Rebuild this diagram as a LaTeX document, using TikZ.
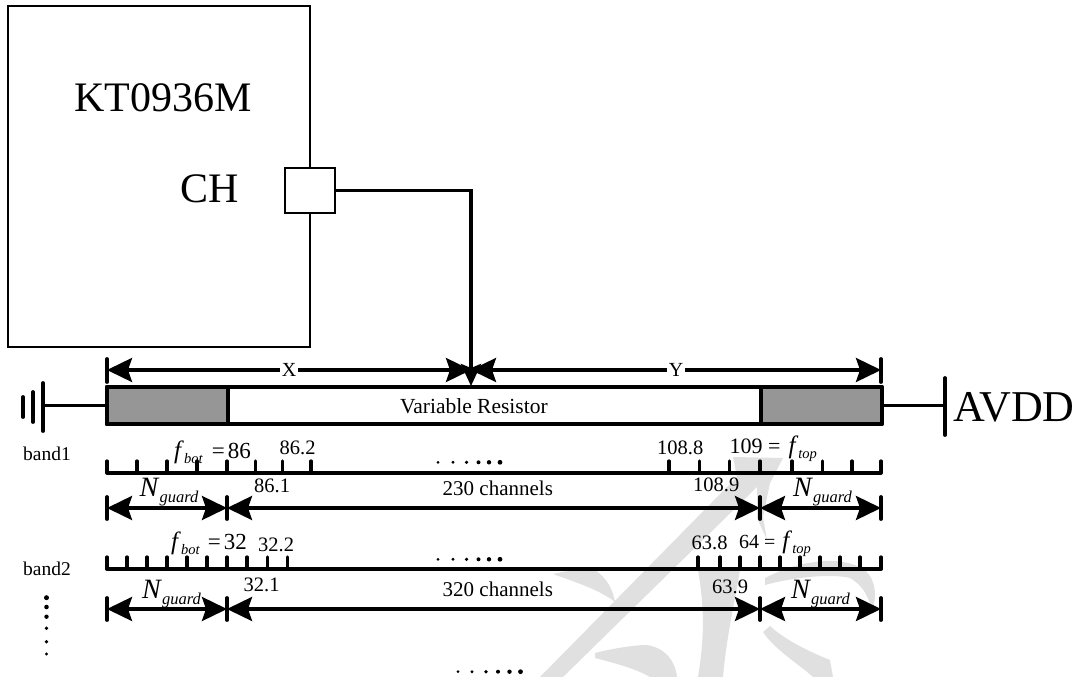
\documentclass[tikz,border=0pt]{standalone}
\usepackage{fontspec}
\setmainfont{Liberation Serif}
\usetikzlibrary{arrows.meta}

\newcommand{\fsz}[1]{\fontsize{#1}{#1}\selectfont}
\newcommand{\fsym}[1]{{\fsz{25}\textit{f}}\raisebox{-5pt}{\fsz{14.5}\textit{#1}}}
\newcommand{\Nsym}{{\fsz{28}\textit{N}}\raisebox{-6pt}{\fsz{16.5}\textit{guard}}}

\definecolor{markgray}{RGB}{224,224,224}
\definecolor{padgray}{RGB}{150,150,150}

\tikzset{
  txt/.style={inner sep=0pt,anchor=base west},
  num/.style={txt,font=\fsz{20.5}},
  bandtxt/.style={txt,font=\fsz{19.5}},
  bigtxt/.style={txt,font=\fsz{42}},
  chanmid/.style={txt,font=\fsz{21}},
  resline/.style={line width=4pt,line join=round},
  dimline/.style={line width=3.4pt,<->,>={Stealth[length=25pt,width=24pt,inset=4pt]}},
  endbar/.style={line width=3.8pt,line cap=round},
  tick/.style={line width=3.2pt,line cap=round},
  axisline/.style={line width=3.6pt,line cap=round},
  markpart/.style={fill=markgray,draw=none}
}

\begin{document}
\begin{tikzpicture}[x=1pt,y=-1pt]
\useasboundingbox (0,0) rectangle (1080,677);

% watermark
\fill[markpart] (733,457)--(783,458)--(770,483)--(763,517)--(767,540)--(757,518)--(757,487)--(563,677)--(540,677)--(727,487)--(737,477)--cycle;
\fill[markpart] (553,574) .. controls (570,570) and (585,568) .. (595,570) .. controls (607,578) and (613,590) .. (615,602) .. controls (600,590) and (575,582) .. (553,574)--cycle;
\fill[markpart] (698,570)--(740,570) .. controls (735,600) and (726,640) .. (723,677)--(698,677) .. controls (704,640) and (705,610) .. (698,570)--cycle;
\fill[markpart] (765,585)--(765,578) .. controls (785,568) and (800,563) .. (825,561) .. controls (850,560) and (868,568) .. (872,580) .. controls (876,590) and (876,600) .. (872,610) .. controls (868,595) and (862,585) .. (850,578) .. controls (830,573) and (790,578) .. (765,585)--cycle;
\fill[markpart] (763,632)--(770,626) .. controls (785,640) and (810,652) .. (830,660)--(833,677)--(813,677) .. controls (800,665) and (775,650) .. (763,632)--cycle;
\fill[markpart] (595,653) .. controls (615,648) and (635,645) .. (647,645) .. controls (665,648) and (675,660) .. (677,677)--(650,677) .. controls (635,668) and (610,662) .. (595,658)--cycle;

% chip
\node[draw,line width=2.2pt,minimum width=302pt,minimum height=341pt,inner sep=0pt] (chip) at (159,176.5) {};
\node[draw,fill=white,line width=2.2pt,minimum width=50pt,minimum height=45pt,inner sep=0pt] (pin) at (310,190.5) {};
\node[bigtxt] (chipname) at (74,111.7) {KT0936M};
\node[bigtxt] (chname) at (180,202.7) {CH};

% resistor
\node[draw,resline,minimum width=775pt,minimum height=37pt,inner sep=0pt] (res) at (494,405.5) {};
\node[draw,resline,fill=padgray,minimum width=121pt,minimum height=37pt,inner sep=0pt] (padl) at (167,405.5) {};
\node[draw,resline,fill=padgray,minimum width=121pt,minimum height=37pt,inner sep=0pt] (padr) at (821,405.5) {};
\node[txt,font=\fsz{21.5}] (restxt) at (400,413) {Variable Resistor};

% ground and supply
\coordinate (gnd) at (43,405.5);
\coordinate (vdd) at (945,405.5);
\draw[line width=3pt] (padl.west) -- (gnd);
\draw[line width=3pt] (padr.east) -- (vdd);
\draw[endbar] (43,383) -- (43,431);
\draw[endbar] (33,392) -- (33,422);
\draw[endbar] (23,397) -- (23,417);
\draw[endbar] (945,378) -- (945,435);
\node[bigtxt,font=\fsz{44}] (avdd) at (953,421) {AVDD};

% wiper and X Y
\coordinate (xa) at (107,370);
\coordinate (xb) at (471,370);
\coordinate (xc) at (881,370);
\coordinate (wiper) at (471,386);
\draw[line width=3.4pt,->,>={Stealth[length=22pt,width=20pt,inset=4pt]}] (pin.east) -| (wiper);
\draw[dimline] (xa) -- (xb) node[midway,fill=white,inner sep=2pt,font=\fsz{20}] (xlab) {X};
\draw[dimline] (xb) -- (xc) node[midway,fill=white,inner sep=2pt,font=\fsz{20}] (ylab) {Y};
\draw[endbar] (107,359) -- (107,382);
\draw[endbar] (881,359) -- (881,382);

% bands
\node[bandtxt] (band1) at (23,460) {band1};
\node[bandtxt] (band2) at (23,575) {band2};

\coordinate (axa) at (107,472.7);
\coordinate (axb) at (881,472.7);
\draw[axisline] (axa) -- (axb);
\foreach \tx in {107,137,167,197,227,255.5,282.5,311,669,699.5,729.5,760,792,822.5,852,881}
  \draw[tick] (\tx,472.7) -- (\tx,461);

\coordinate (bxa) at (107,569);
\coordinate (bxb) at (881,569);
\draw[axisline] (bxa) -- (bxb);
\foreach \tx in {107,127,147,167,187,207,227,247,267.5,287.5,698,720,740,760,780,800,820,840,860,881}
  \draw[tick] (\tx,569) -- (\tx,557);

% guard arrows
\foreach \r/\yd in {1/508,2/609} {
  \coordinate (ga\r) at (107,\yd);
  \coordinate (gb\r) at (227,\yd);
  \coordinate (gc\r) at (760,\yd);
  \coordinate (gd\r) at (881,\yd);
  \draw[dimline] (ga\r) -- (gb\r);
  \draw[dimline] (gb\r) -- (gc\r);
  \draw[dimline] (gc\r) -- (gd\r);
  \foreach \tx in {107,227,760,881}
    \draw[endbar] (\tx,\yd-11) -- (\tx,\yd+11);
}

% band1 labels
\node[txt,font=\fsz{23}] (fbota) at (174,458) {\fsym{bot}\hspace{9pt}={\hspace{3pt}}86};
\node[num] (lab862) at (279.5,454) {86.2};
\node[num] (lab861) at (254,492.7) {86.1};
\node[chanmid] (chana) at (442.5,495) {230 channels};
\node[num] (lab1088) at (657,454) {108.8};
\node[num] (lab1089) at (693,491.7) {108.9};
\node[txt,font=\fsz{22}] (ftopa) at (729.5,453) {109 =\hspace{8pt}\fsym{top}};
\node[txt] (nga) at (139.5,496.7) {\Nsym};
\node[txt] (ngb) at (793,496.7) {\Nsym};

% band2 labels
\node[txt,font=\fsz{23}] (fbotb) at (171,549.3) {\fsym{bot}\hspace{8pt}={\hspace{3pt}}32};
\node[num] (lab322) at (258,551) {32.2};
\node[num] (lab321) at (243.5,591.7) {32.1};
\node[chanmid] (chanb) at (442.5,596.7) {320 channels};
\node[num] (lab638) at (691.5,549) {63.8};
\node[num] (lab639) at (712,593) {63.9};
\node[txt,font=\fsz{20}] (ftopb) at (739,548) {64 =\hspace{7pt}\fsym{top}};
\node[txt] (ngc) at (142,598) {\Nsym};
\node[txt] (ngd) at (791,598) {\Nsym};

% dots
\foreach \tx/\ds in {438/3pt,453/3.2pt,466.5/3.6pt,478.5/4pt,489/4.4pt,500/4.8pt} {
  \fill (\tx,462.3) circle (\ds/2);
  \fill (\tx,559.3) circle (\ds/2);
}
\foreach \tx/\ds in {458/3pt,472/3.2pt,486/3.6pt,498/4pt,509.5/4.4pt,520.5/4.8pt}
  \fill (\tx,671.7) circle (\ds/2);
\foreach \ty/\ds in {597.7/5pt,607/4.6pt,616.7/4.4pt,628.3/3.8pt,641.7/3.6pt,654/3.4pt}
  \fill (46.5,\ty) circle (\ds/2);

\end{tikzpicture}
\end{document}
